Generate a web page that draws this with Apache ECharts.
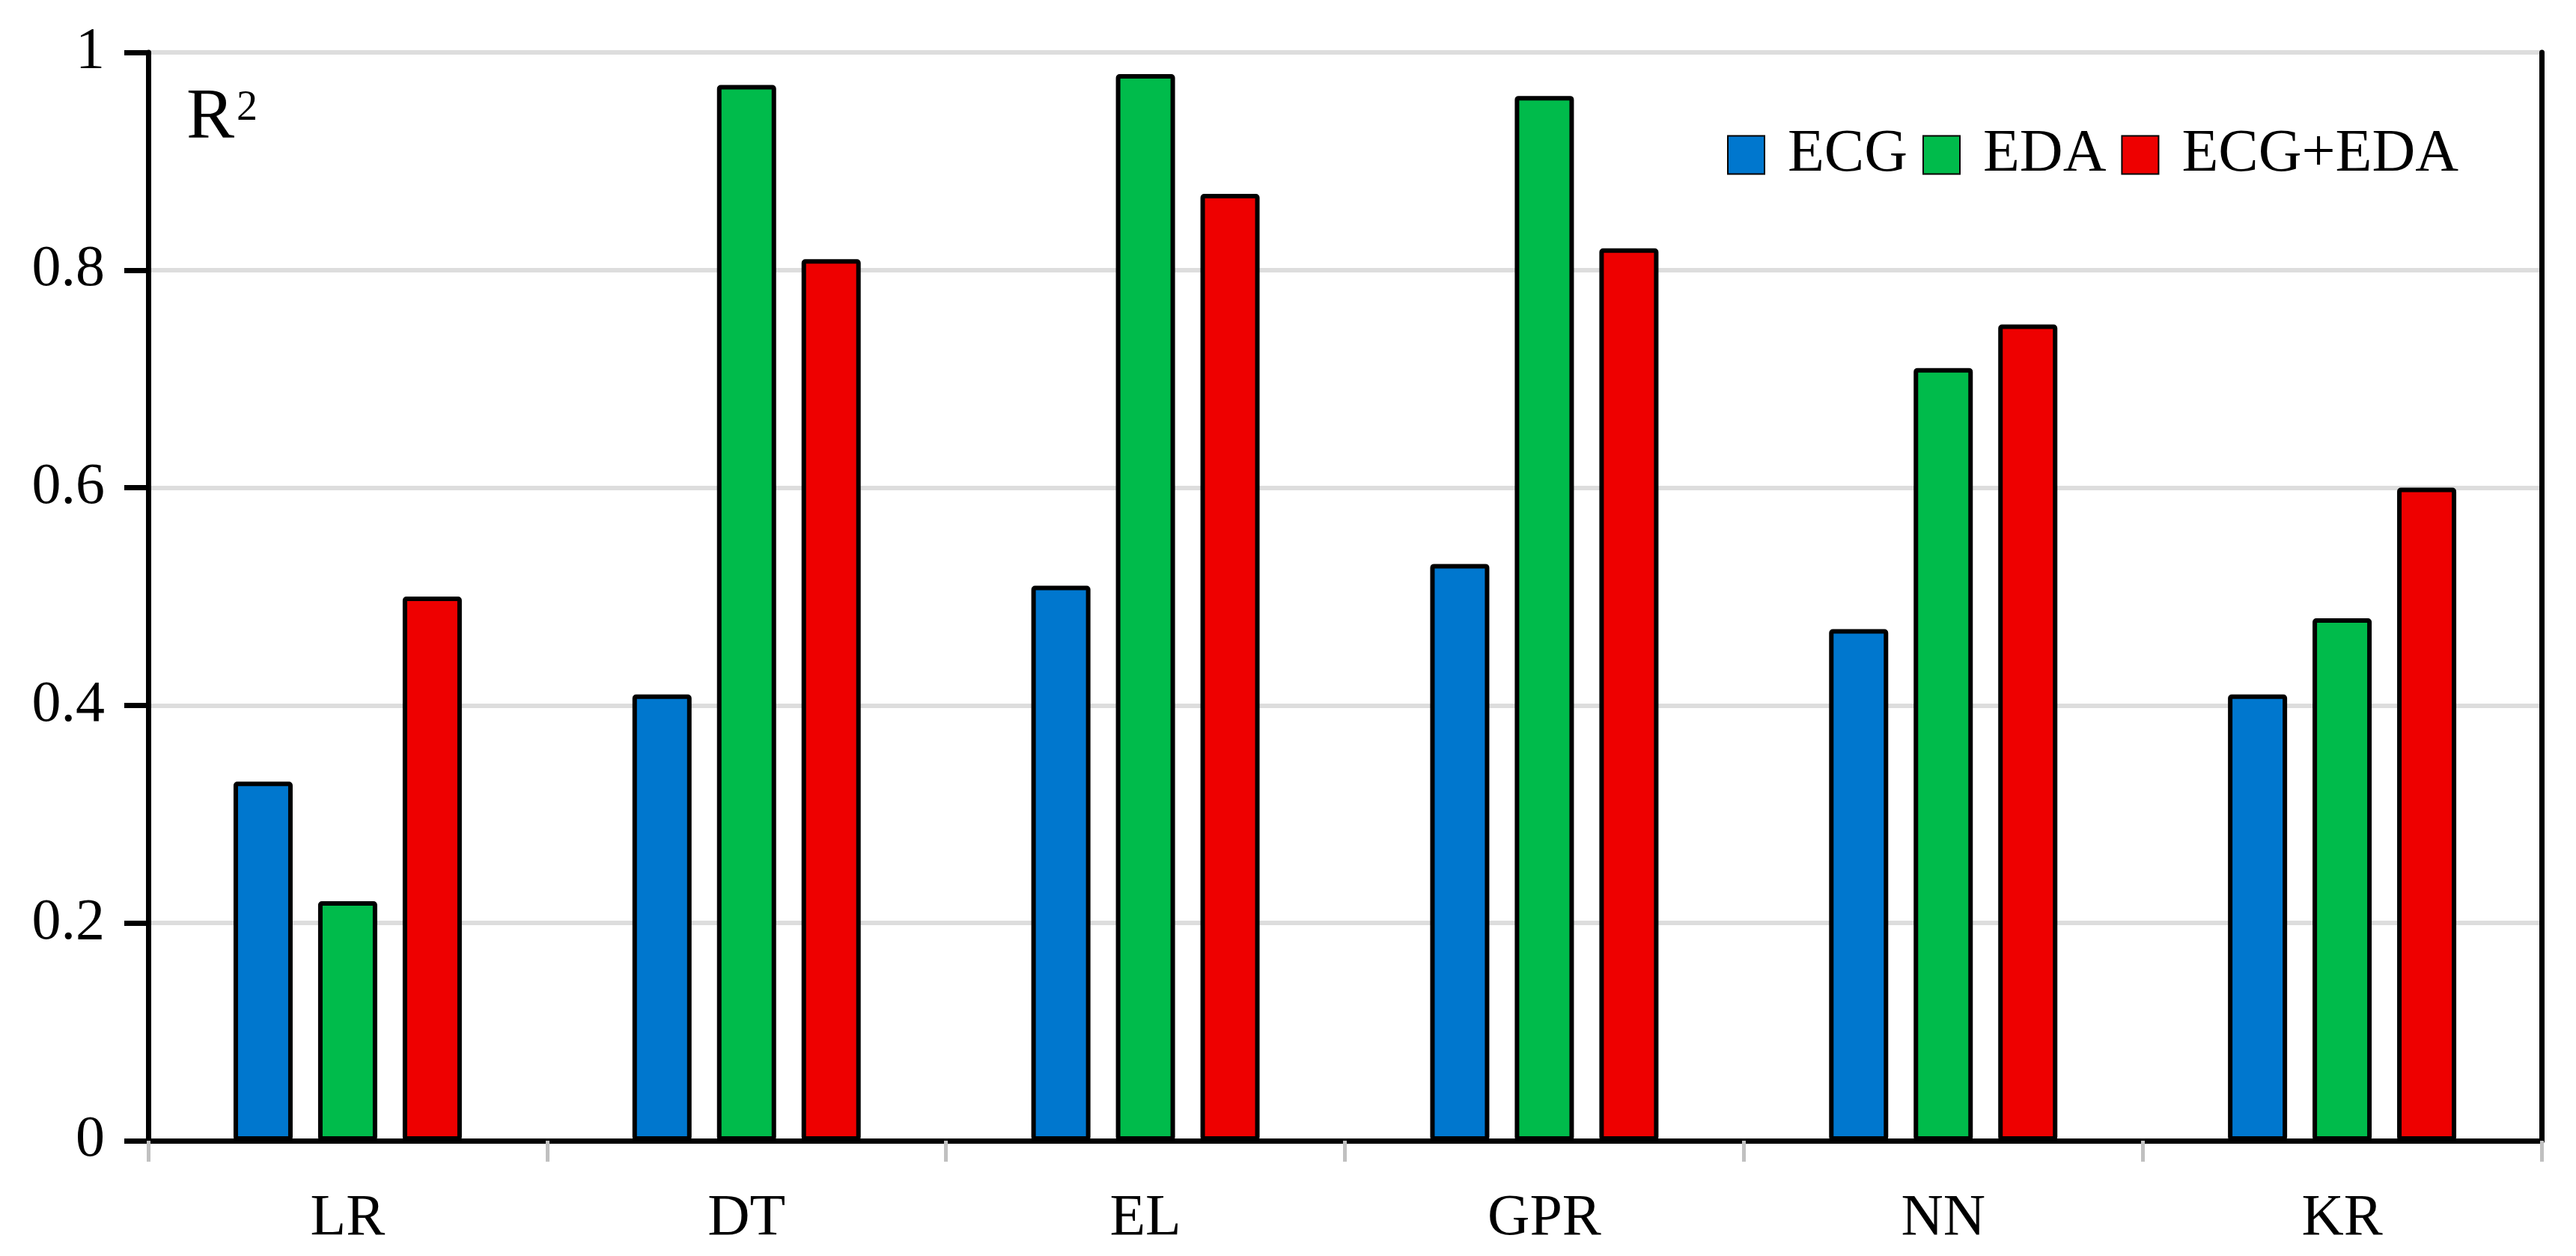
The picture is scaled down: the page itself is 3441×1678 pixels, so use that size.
<!DOCTYPE html>
<html>
<head>
<meta charset="utf-8">
<script src="https://cdn.jsdelivr.net/npm/echarts@6/dist/echarts.min.js"></script>
<style>
html,body{margin:0;padding:0;background:#fff;}
#chart{width:3441px;height:1678px;}
</style>
</head>
<body>
<div id="chart"></div>
<script>
var categories = ['LR', 'DT', 'EL', 'GPR', 'NN', 'KR'];
var seriesNames = ['ECG', 'EDA', 'ECG+EDA'];
var ecgValues = [0.33, 0.41, 0.51, 0.53, 0.47, 0.41];
var edaValues = [0.22, 0.97, 0.98, 0.96, 0.71, 0.48];
var ecgEdaValues = [0.50, 0.81, 0.87, 0.82, 0.75, 0.60];
var seriesColors = ['#0077CE', '#00BB4B', '#EE0000'];
var yTicks = { min: 0, max: 1, interval: 0.2 };

var FONT = '"Liberation Serif", "Times New Roman", serif';
var chart = echarts.init(document.getElementById('chart'));

function barSeries(name, data, color) {
  return {
    name: name,
    type: 'bar',
    data: data,
    xAxisIndex: 0,
    yAxisIndex: 0,
    barWidth: 79,
    barGap: '43%',
    z: 2,
    itemStyle: { color: color, borderColor: '#000', borderWidth: 6, borderRadius: 2 },
    emphasis: { disabled: true }
  };
}

var frameLine = { show: true, lineStyle: { color: '#000', width: 7 } };

chart.setOption({
  backgroundColor: '#fff',
  animation: false,
  grid: { left: 198, right: 46, top: 70, bottom: 154, show: false },
  legend: {
    data: seriesNames,
    left: 2302, top: 162,
    itemWidth: 49, itemHeight: 51, itemGap: 20,
    icon: 'rect',
    textStyle: { fontFamily: FONT, fontSize: 80, color: '#000', padding: [0, 0, 0, 26] }
  },
  xAxis: [{
    type: 'category',
    data: categories,
    z: 5,
    axisLine: frameLine,
    axisTick: { show: true, inside: false, length: 28, lineStyle: { color: '#c0c0c0', width: 5 } },
    axisLabel: { fontFamily: FONT, fontSize: 78, color: '#000', margin: 66 },
    splitLine: { show: false }
  }, {
    type: 'category',
    data: categories,
    position: 'top',
    z: 5,
    axisLine: frameLine,
    axisTick: { show: false },
    axisLabel: { show: false },
    splitLine: { show: false }
  }],
  yAxis: [{
    type: 'value',
    min: yTicks.min, max: yTicks.max, interval: yTicks.interval,
    z: 0,
    axisLine: frameLine,
    axisTick: { show: true, inside: false, length: 32, lineStyle: { color: '#000', width: 7 } },
    axisLabel: { fontFamily: FONT, fontSize: 78, color: '#000', margin: 58 },
    splitLine: { show: true, lineStyle: { color: '#dddddd', width: 6 } }
  }, {
    type: 'value',
    position: 'right',
    min: yTicks.min, max: yTicks.max, interval: yTicks.interval,
    z: 5,
    axisLine: frameLine,
    axisTick: { show: false },
    axisLabel: { show: false },
    splitLine: { show: false }
  }],
  graphic: [
    { type: 'text', left: 249, top: 111, silent: true,
      style: { text: 'R', fontFamily: FONT, fontSize: 96, fill: '#000' } },
    { type: 'text', left: 316, top: 117, silent: true,
      style: { text: '2', fontFamily: FONT, fontSize: 56, fill: '#000' } }
  ],
  series: [
    barSeries(seriesNames[0], ecgValues, seriesColors[0]),
    barSeries(seriesNames[1], edaValues, seriesColors[1]),
    barSeries(seriesNames[2], ecgEdaValues, seriesColors[2])
  ]
});
</script>
</body>
</html>
